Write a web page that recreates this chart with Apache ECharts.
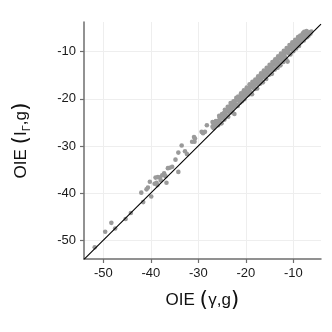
<!DOCTYPE html>
<html>
<head>
<meta charset="utf-8">
<script src="https://cdn.jsdelivr.net/npm/echarts@6/dist/echarts.min.js"></script>
<style>
  html, body { margin: 0; padding: 0; background: #fff; }
  #chart { width: 332px; height: 332px; }
</style>
</head>
<body>
<div id="chart"></div>
<script>
// axis extents and tick labels
const xRange = [-54.06, -4.17];
const yRange = [-53.97, -3.7];
const tickValues = [-50, -40, -30, -20, -10];

// OIE(gamma,g) on x, OIE(I_Gamma,g) on y
const oieGamma = [
  -51.8, -49.6, -47.5, -48.3, -45.3, -44.2, -41.6, -39.9, -42.0, -40.6, -40.9, -40.2,
  -37.2, -37.6, -36.9, -38.1, -38.5, -39.0, -39.2, -38.8, -38.6, -37.9, -36.7,
  -35.5, -36.0, -36.4, -34.2, -34.8, -34.2, -32.8, -32.4, -33.5, -31.3,
  -30.8, -30.7, -29.3, -28.2, -27.0, -26.8, -28.6, -30.9, -29.0,
  -27.0, -26.8, -26.6, -26.5, -26.3, -26.1, -26.0, -25.8, -25.7, -25.5, -25.4, -25.2, -25.1,
  -24.9, -24.8, -24.6, -24.5, -24.3, -24.2, -24.0, -23.9, -23.7, -23.6, -23.4, -23.3, -23.1,
  -23.0, -22.8, -22.7, -22.5, -22.4, -22.3, -22.1, -22.0, -21.8, -21.7, -21.5, -21.4, -21.2,
  -21.1, -20.9, -20.8, -20.6, -20.5, -20.3, -20.2, -20.0, -19.9, -19.7, -19.6, -19.4, -19.3,
  -19.1, -19.0, -18.8, -18.7, -18.5, -18.4, -18.2, -18.1, -17.9, -17.8, -17.6, -17.5, -17.3,
  -17.2, -17.0, -16.9, -16.7, -16.6, -16.4, -16.3, -16.1, -16.0, -15.8, -15.7, -15.5, -15.4,
  -15.2, -15.1, -14.9, -14.8, -14.6, -14.5, -14.3, -14.2, -14.0, -13.9, -13.7, -13.6, -13.4,
  -13.3, -13.1, -13.0, -12.8, -12.7, -12.5, -12.4, -12.2, -12.1, -11.9, -11.8, -11.6, -11.5,
  -11.3, -11.2, -11.0, -10.9, -10.7, -10.6, -10.4, -10.3, -10.1, -10.0, -9.8, -9.7, -9.5,
  -9.4, -9.2, -9.1, -8.9, -8.8, -8.7, -8.6, -8.4, -8.3, -8.1, -7.9, -7.8, -7.6,
  -7.5, -7.3, -7.1, -7.0, -6.8, -6.6, -6.4, -6.2,
  -25.6, -25.0, -24.4, -23.8, -23.2, -22.6, -22.0, -21.6, -21.0, -20.4, -19.8, -19.2, -18.6,
  -18.0, -17.4, -16.8, -16.2, -15.6, -15.0, -14.4, -13.8, -13.2, -12.6, -12.0, -11.4, -10.8,
  -10.2, -9.6, -9.0, -8.5, -8.0, -7.7, -7.2,
  -24.7, -23.5, -22.2, -20.7, -19.5, -18.3, -17.1, -15.9, -14.7, -13.5, -12.3, -11.1, -9.9, -8.7
];
const oieIGamma = [
  -51.5, -48.2, -47.5, -46.3, -45.5, -44.2, -41.9, -40.7, -39.9, -38.8, -39.2, -37.6,
  -35.8, -36.2, -36.4, -36.7, -36.6, -36.7, -38.0, -37.8, -38.3, -37.3, -37.8,
  -34.4, -34.6, -34.7, -35.5, -32.9, -31.4, -31.1, -31.7, -29.9, -29.1,
  -29.1, -28.4, -27.0, -25.6, -24.9, -25.6, -27.0, -28.1, -27.3,
  -25.9, -26.2, -25.0, -25.7, -24.7, -25.4, -24.8, -25.6, -24.6, -23.9, -24.9, -24.0, -25.2,
  -23.5, -24.1, -23.0, -24.4, -23.4, -22.5, -23.6, -22.6, -23.8, -22.1, -22.9, -21.6, -22.4,
  -21.4, -22.9, -21.9, -21.0, -23.2, -21.6, -20.4, -21.2, -20.1, -21.5, -20.3, -19.6, -20.8,
  -19.9, -19.1, -20.5, -19.3, -18.7, -20.1, -19.0, -18.3, -19.4, -18.6, -17.8, -19.1, -18.1,
  -17.4, -18.5, -17.5, -19.0, -16.8, -17.7, -16.7, -17.9, -16.3, -16.9, -17.8, -15.8, -16.5,
  -15.6, -16.8, -15.3, -16.0, -14.9, -16.5, -15.2, -14.4, -15.4, -14.2, -15.8, -13.9, -14.6,
  -13.5, -14.9, -13.3, -14.0, -13.0, -14.7, -12.6, -13.5, -12.3, -13.8, -12.1, -12.9, -11.8,
  -13.4, -11.5, -12.4, -11.2, -12.9, -10.9, -11.7, -10.6, -12.2, -10.4, -11.0, -10.1, -11.6,
  -9.8, -12.1, -9.6, -10.4, -9.0, -10.6, -8.9, -9.5, -8.5, -9.9, -8.3, -9.0, -7.9,
  -9.3, -7.7, -8.4, -7.4, -8.8, -6.8, -7.3, -8.0, -7.0, -7.7, -6.8, -7.6, -6.5,
  -7.1, -6.2, -6.9, -6.3, -6.6, -5.9, -6.2, -5.7,
  -23.6, -23.2, -22.3, -21.7, -20.9, -20.5, -19.8, -19.5, -18.8, -18.2, -17.6, -16.9, -16.4,
  -15.9, -15.2, -14.6, -14.0, -13.4, -12.8, -12.2, -11.6, -11.0, -10.4, -9.8, -9.2, -8.6,
  -8.0, -7.5, -6.9, -6.6, -6.1, -5.8, -5.6,
  -23.8, -22.7, -21.4, -19.9, -18.7, -17.4, -16.2, -15.0, -13.8, -12.6, -11.4, -10.2, -9.0, -7.9
];

const points = oieGamma.map((x, i) => [x, oieIGamma[i]]);
const identityLine = [[xRange[0], xRange[0]], [xRange[1], xRange[1]]];

const chart = echarts.init(document.getElementById('chart'));

const labelFont = { fontFamily: 'Liberation Sans', fontSize: 13, color: '#1a1a1a' };

const axisCommon = {
  type: 'value',
  axisLine: { show: true, onZero: false, lineStyle: { color: '#6e6e6e', width: 1.5 } },
  axisTick: { show: true, length: 4, customValues: tickValues, lineStyle: { color: '#6e6e6e', width: 1.2 } },
  axisLabel: Object.assign({ margin: 8, customValues: tickValues }, labelFont),
  splitLine: { show: true, lineStyle: { color: '#eeeeee', width: 1 } },
  nameLocation: 'middle'
};

const option = {
  animation: false,
  backgroundColor: '#ffffff',
  grid: { left: 84, right: 11, top: 22, bottom: 73 },
  xAxis: Object.assign({}, axisCommon, {
    min: xRange[0],
    max: xRange[1],
    name: '{t|OIE }{p|(}{g|\u03b3,g}{p|)}',
    nameGap: 30,
    nameTextStyle: {
      rich: {
        t: { fontFamily: 'Liberation Sans', fontSize: 17, color: '#111' },
        p: { fontFamily: 'DejaVu Sans', fontSize: 22, color: '#111' },
        g: { fontFamily: 'Liberation Sans', fontSize: 17, color: '#111' }
      }
    }
  }),
  yAxis: Object.assign({}, axisCommon, {
    min: yRange[0],
    max: yRange[1],
    name: '{t|OIE }{p|(}{g|I}{s|\u0393}{g|,g}{p|)}',
    nameGap: 52,
    nameTextStyle: {
      rich: {
        t: { fontFamily: 'Liberation Sans', fontSize: 17, color: '#111' },
        p: { fontFamily: 'DejaVu Sans', fontSize: 22, color: '#111' },
        g: { fontFamily: 'Liberation Sans', fontSize: 17, color: '#111' },
        s: { fontFamily: 'Liberation Sans', fontSize: 11, color: '#111', verticalAlign: 'bottom', padding: [8, 0, 0, 0] }
      }
    }
  }),
  series: [
    {
      type: 'scatter',
      data: points,
      symbolSize: 4.6,
      itemStyle: { color: '#9a9a9a', opacity: 1 },
      z: 2
    },
    {
      type: 'line',
      data: identityLine,
      showSymbol: false,
      lineStyle: { color: '#000000', width: 1.1 },
      clip: true,
      z: 3
    }
  ]
};

chart.setOption(option);
</script>
</body>
</html>
